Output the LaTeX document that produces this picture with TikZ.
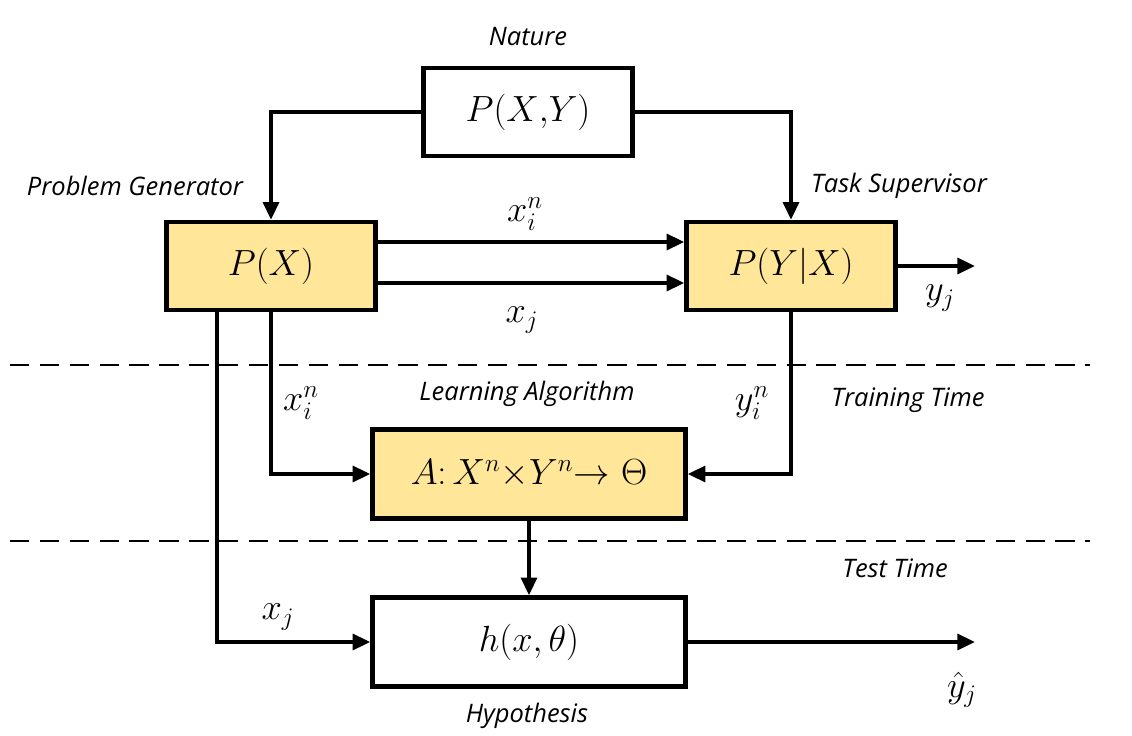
\documentclass[tikz,border=0pt]{standalone}
\usepackage{fontspec}
\newfontfamily\labfont{Open Sans}
\usetikzlibrary{arrows.meta}
\begin{document}
\begin{tikzpicture}[x=0.02cm,y=-0.02cm,
  box/.style={draw=black,line width=2.6pt,minimum width=4.18cm,minimum height=1.76cm,inner sep=0pt,font=\fontsize{21}{25}\selectfont},
  wbox/.style={box,fill=white},
  wide/.style={minimum width=6.26cm,minimum height=1.78cm},
  arr/.style={line width=2.1pt,-{Triangle[length=10pt,width=9pt]}},
  dsh/.style={line width=0.9pt,dash pattern=on 11pt off 6pt},
  lab/.style={font=\labfont\itshape\fontsize{14.5}{17}\selectfont,inner sep=1pt},
  mlab/.style={font=\fontsize{21}{25}\selectfont,inner sep=1pt}]
\useasboundingbox (0,0) rectangle (1132,736);
\definecolor{boxyellow}{HTML}{FFE699}
\node[wbox] (pxy) at (528,112) {$P(X{,}Y)$};
\node[box,fill=boxyellow] (px) at (271,266) {$P(X)$};
\node[box,fill=boxyellow] (pyx) at (791,266) {$P(Y|X)$};
\node[box,fill=boxyellow,wide] (A) at (529,474) {$A\colon X^{n}{\times}Y^{n}{\rightarrow}\ \Theta$};
\node[wbox,wide] (h) at (529,642) {$h(x,\theta)$};
% labels
\node[lab] (nat) at (528,37) {Nature};
\node[lab] (pg) at (135,186) {Problem Generator};
\node[lab] (ts) at (899,186) {Task Supervisor};
\node[lab] (la) at (527,394) {Learning Algorithm};
\node[lab] (tt) at (908,400) {Training Time};
\node[lab] (te) at (895,568) {Test Time};
\node[lab] (hy) at (527,716) {Hypothesis};
\node[mlab] (l1) at (525,214) {$x_i^n$};
\node[mlab] (l2) at (522,320) {$x_j$};
\node[mlab] (l3) at (940,298) {$y_j$};
\node[mlab] (l4) at (301,403) {$x_i^n$};
\node[mlab] (l5) at (752,403) {$y_i^n$};
\node[mlab] (l6) at (278,617) {$x_j$};
\node[mlab] (l7) at (962,690) {$\hat{y}_j$};
% free ends
\coordinate (yj) at (975,266);
\coordinate (yh) at (975,642);
\coordinate (d1a) at (10,365);
\coordinate (d1b) at (1090,365);
\coordinate (d2a) at (10,541);
\coordinate (d2b) at (1090,541);
% dashed
\draw[dsh] (d1a) -- (d1b);
\draw[dsh] (d2a) -- (d2b);
% connectors
\draw[arr] (pxy.west) -| (px.north);
\draw[arr] (pxy.east) -| (pyx.north);
\draw[arr] (px.east |- 0,242) -- (pyx.west |- 0,242);
\draw[arr] (px.east |- 0,283) -- (pyx.west |- 0,283);
\draw[arr] (pyx.east) -- (yj);
\draw[arr] (px.south) |- (A.west);
\draw[arr] (pyx.south) |- (A.east);
\draw[arr] (A.south) -- (h.north);
\draw[arr] (px.south -| 217,0) |- (h.west);
\draw[arr] (h.east) -- (yh);
\end{tikzpicture}
\end{document}
